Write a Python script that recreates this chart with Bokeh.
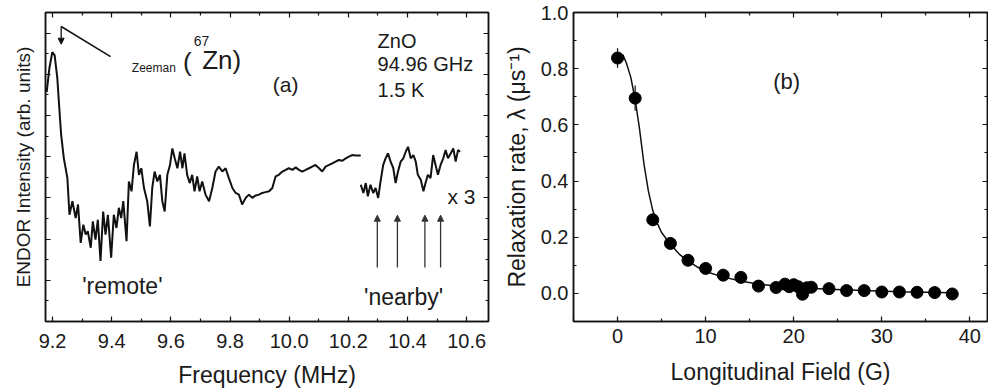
from bokeh.plotting import figure
from bokeh.layouts import row
from bokeh.models import (Range1d, LinearAxis, FixedTicker, CustomJSTickFormatter,
                          PrintfTickFormatter, Label, Arrow, NormalHead, Whisker,
                          ColumnDataSource)
from bokeh.embed import file_html
from bokeh.resources import INLINE

FONT = "Liberation Sans"
INK = "#111111"
TXT = "#1a1a1a"

# ---------------- Panel (a): ENDOR spectrum ----------------
freq_remote = [9.180, 9.189, 9.199, 9.207, 9.216, 9.225, 9.229, 9.238, 9.250, 9.257,
               9.267, 9.278, 9.286, 9.295, 9.304, 9.312, 9.319, 9.329, 9.336, 9.345,
               9.353, 9.362, 9.371, 9.379, 9.387, 9.398, 9.407, 9.416, 9.424, 9.432,
               9.439, 9.450, 9.458, 9.467, 9.475, 9.484, 9.492, 9.500, 9.509, 9.520,
               9.529, 9.537, 9.545, 9.554, 9.563, 9.571, 9.579, 9.588, 9.597, 9.605,
               9.613, 9.622, 9.631, 9.639, 9.646, 9.655, 9.664, 9.672, 9.680, 9.689,
               9.697, 9.706, 9.717, 9.729, 9.740, 9.751, 9.762, 9.774, 9.785, 9.796,
               9.808, 9.819, 9.830, 9.841, 9.853, 9.864, 9.875, 9.887, 9.898, 9.909,
               9.920, 9.932, 9.943, 9.954, 9.965, 9.977, 9.988, 9.999, 10.011, 10.022,
               10.033, 10.044, 10.056, 10.067, 10.078, 10.089, 10.101, 10.112, 10.123, 10.135,
               10.146, 10.157, 10.168, 10.180, 10.191, 10.202, 10.213, 10.225, 10.242]
endor_remote = [5.57, 6.14, 6.54, 6.46, 5.90, 4.93, 4.53, 3.96, 3.48, 2.59,
                2.92, 2.51, 2.84, 1.91, 2.35, 2.11, 2.19, 1.79, 2.43, 1.99,
                2.47, 1.47, 2.67, 2.11, 2.59, 1.55, 2.59, 2.27, 2.76, 2.51,
                2.92, 1.95, 3.40, 3.16, 3.80, 4.12, 3.56, 3.72, 3.24, 2.92,
                2.31, 3.24, 3.64, 3.40, 3.56, 2.92, 2.67, 3.56, 3.80, 4.20,
                3.96, 3.72, 4.12, 3.72, 4.08, 3.56, 3.36, 3.56, 3.16, 3.52,
                3.16, 3.40, 3.08, 2.92, 3.24, 3.64, 3.76, 3.64, 3.72, 3.48,
                3.24, 3.12, 3.08, 2.84, 3.00, 3.08, 3.00, 3.06, 3.08, 3.12,
                3.14, 3.16, 3.24, 3.52, 3.56, 3.64, 3.68, 3.72, 3.68, 3.74,
                3.68, 3.64, 3.68, 3.72, 3.76, 3.80, 3.72, 3.64, 3.76, 3.80,
                3.84, 3.88, 3.92, 3.90, 3.96, 4.00, 4.04, 4.03, 4.03]
freq_nearby = [10.242, 10.251, 10.259, 10.266, 10.275, 10.284, 10.292, 10.301, 10.309, 10.318,
               10.326, 10.334, 10.343, 10.352, 10.360, 10.368, 10.377, 10.386, 10.394, 10.402,
               10.411, 10.420, 10.428, 10.435, 10.445, 10.454, 10.461, 10.469, 10.478, 10.487,
               10.495, 10.503, 10.512, 10.521, 10.529, 10.537, 10.546, 10.555, 10.563, 10.571,
               10.578]
endor_nearby = [3.32, 3.12, 3.36, 3.04, 3.32, 3.12, 3.24, 3.00, 3.40, 3.80,
                3.96, 4.08, 3.88, 3.72, 3.36, 3.64, 3.88, 3.96, 4.12, 4.24,
                3.96, 4.04, 3.88, 3.56, 3.44, 3.16, 3.36, 3.56, 3.48, 4.04,
                3.80, 3.56, 3.80, 3.96, 4.16, 3.96, 4.08, 4.20, 3.88, 4.16,
                4.12]
nearby_marks = [10.298, 10.366, 10.459, 10.512]
zeeman_mark = 9.229

freq_major = [9.2, 9.4, 9.6, 9.8, 10.0, 10.2, 10.4, 10.6]
freq_minor = [9.3, 9.5, 9.7, 9.9, 10.1, 10.3, 10.5]
freq_labels = {9.2: "9.2", 9.4: "9.4", 9.6: "9.6", 9.8: "9.8", 10.0: "10.0",
               10.2: "10.2", 10.4: "10.4", 10.6: "10.6"}
int_major = [0, 1, 2, 3, 4, 5, 6, 7]
int_minor = [0.5, 1.5, 2.5, 3.5, 4.5, 5.5, 6.5, 7.5]

# ---------------- Panel (b): relaxation rate ----------------
field = [0, 2, 4, 6, 8, 10, 12, 14, 16, 18, 19, 19.5, 20, 20.5, 21, 21.5, 22,
         24, 26, 28, 30, 32, 34, 36, 38]
rate = [0.838, 0.695, 0.262, 0.178, 0.118, 0.089, 0.065, 0.057, 0.026, 0.021,
        0.033, 0.024, 0.031, 0.024, -0.003, 0.020, 0.022,
        0.017, 0.010, 0.010, 0.005, 0.005, 0.004, 0.003, -0.002]
rate_err = [0.035, 0.045, 0.012, 0.010, 0.010, 0.010, 0.010, 0.010, 0.010, 0.010,
            0.010, 0.010, 0.010, 0.010, 0.010, 0.010, 0.010,
            0.010, 0.010, 0.010, 0.010, 0.010, 0.010, 0.010, 0.010]
fit_field = [0.6, 1.0, 1.5, 2.0, 2.5, 3.0, 3.5, 4.0, 4.5, 5.0, 6.0, 7.0, 8.0, 9.0,
             10.0, 12.0, 14.0, 16.0, 18.0, 20.0, 24.0, 28.0, 32.0, 38.0]
fit_rate = [0.850, 0.820, 0.770, 0.690, 0.585, 0.460, 0.365, 0.295, 0.250, 0.217,
            0.175, 0.140, 0.115, 0.095, 0.078, 0.058, 0.044, 0.033, 0.026, 0.021,
            0.015, 0.010, 0.006, 0.002]

field_major = [0, 10, 20, 30, 40]
field_minor = [-5, 5, 15, 25, 35]
rate_major = [0.0, 0.2, 0.4, 0.6, 0.8, 1.0]
rate_minor = [-0.1, 0.1, 0.3, 0.5, 0.7, 0.9]


def style_axis(ax, major, minor, labels=True, size="20px"):
    ax.ticker = FixedTicker(ticks=major, minor_ticks=minor)
    ax.major_tick_in = 5
    ax.major_tick_out = 0
    ax.minor_tick_in = 3
    ax.minor_tick_out = 0
    ax.axis_line_color = INK
    ax.axis_line_width = 1.5
    ax.major_tick_line_color = INK
    ax.major_tick_line_width = 1.2
    ax.minor_tick_line_color = INK
    ax.minor_tick_line_width = 1.2
    ax.major_label_text_font = FONT
    ax.major_label_text_color = TXT
    ax.major_label_text_font_size = size
    ax.axis_label_text_font = FONT
    ax.axis_label_text_font_style = "normal"
    ax.axis_label_text_color = TXT
    if not labels:
        ax.formatter = CustomJSTickFormatter(code="return ''")
        ax.major_label_text_font_size = "0px"
        ax.major_label_standoff = 0


def base_figure(xr, yr, width, left, right, top, bottom):
    p = figure(x_range=xr, y_range=yr, width=width, height=391,
               output_backend="svg", toolbar_location=None,
               min_border_left=left, min_border_right=right,
               min_border_top=top, min_border_bottom=bottom)
    p.xgrid.visible = False
    p.ygrid.visible = False
    p.outline_line_color = INK
    p.outline_line_width = 1.5
    p.background_fill_color = "white"
    p.border_fill_color = "white"
    return p


def add_text(p, x, y, t, size, align="left", baseline="middle"):
    p.add_layout(Label(x=x, y=y, text=t, text_font=FONT, text_font_size=size,
                       text_color=TXT, text_align=align, text_baseline=baseline))


# ---- figure a ----
pa = base_figure(Range1d(9.176, 10.674), Range1d(0, 7.5), 500, 45, 12, 11, 70)
style_axis(pa.xaxis[0], freq_major, freq_minor)
pa.xaxis[0].major_label_overrides = freq_labels
pa.xaxis[0].major_label_standoff = 12
pa.xaxis[0].axis_label = "Frequency (MHz)"
pa.xaxis[0].axis_label_text_font_size = "23px"
pa.xaxis[0].axis_label_standoff = 11
style_axis(pa.yaxis[0], int_major, int_minor, labels=False)
pa.yaxis[0].axis_label = "ENDOR Intensity (arb. units)"
pa.yaxis[0].axis_label_text_font_size = "19px"
pa.yaxis[0].axis_label_standoff = 12
ta = LinearAxis(); style_axis(ta, freq_major, freq_minor, labels=False)
ra = LinearAxis(); style_axis(ra, int_major, int_minor, labels=False)
pa.add_layout(ta, "above")
pa.add_layout(ra, "right")

pa.line(freq_remote, endor_remote, line_color=INK, line_width=2)
pa.line(freq_nearby, endor_nearby, line_color=INK, line_width=2)

for xm in nearby_marks:
    pa.add_layout(Arrow(x_start=xm, y_start=1.31, x_end=xm, y_end=2.58,
                        line_color="#333333", line_width=1.3,
                        end=NormalHead(size=6, fill_color="#333333", line_color="#333333")))
pa.add_layout(Arrow(x_start=zeeman_mark, y_start=7.16, x_end=zeeman_mark, y_end=6.73,
                    line_color=INK, line_width=1.3,
                    end=NormalHead(size=6, fill_color=INK, line_color=INK)))
pa.segment(x0=[zeeman_mark], y0=[7.16], x1=[9.396], y1=[6.43], line_color=INK, line_width=1.5)

add_text(pa, 9.468, 6.16, "Zeeman", "12px")
add_text(pa, 9.641, 6.31, "(", "26px")
add_text(pa, 9.677, 6.82, "67", "14px")
add_text(pa, 9.706, 6.35, "Zn)", "26px")
add_text(pa, 9.988, 5.75, "(a)", "21px", align="center")
add_text(pa, 10.299, 6.82, "ZnO", "20px")
add_text(pa, 10.299, 6.26, "94.96 GHz", "20px")
add_text(pa, 10.299, 5.62, "1.5 K", "20px")
add_text(pa, 10.535, 3.04, "x 3", "21px")
add_text(pa, 9.300, 0.87, "'remote'", "23px")
add_text(pa, 10.253, 0.60, "'nearby'", "23px")

# ---- figure b ----
pb = base_figure(Range1d(-5, 42), Range1d(-0.1, 1.0), 488, 72, 1, 12, 69)
style_axis(pb.xaxis[0], field_major, field_minor)
pb.xaxis[0].major_label_standoff = 7
pb.xaxis[0].axis_label = "Longitudinal Field (G)"
pb.xaxis[0].axis_label_text_font_size = "23px"
pb.xaxis[0].axis_label_standoff = 13
style_axis(pb.yaxis[0], rate_major, rate_minor)
pb.yaxis[0].formatter = PrintfTickFormatter(format="%.1f")
pb.yaxis[0].major_label_standoff = 5
pb.yaxis[0].axis_label = "Relaxation rate, \u03bb (\u03bcs\u207b\u00b9)"
pb.yaxis[0].axis_label_text_font_size = "23px"
pb.yaxis[0].axis_label_standoff = 8
tb = LinearAxis(); style_axis(tb, field_major, field_minor, labels=False)
rb = LinearAxis(); style_axis(rb, rate_major, rate_minor, labels=False)
pb.add_layout(tb, "above")
pb.add_layout(rb, "right")

src = ColumnDataSource(dict(x=field, y=rate,
                            lo=[r - e for r, e in zip(rate, rate_err)],
                            hi=[r + e for r, e in zip(rate, rate_err)]))
pb.add_layout(Whisker(source=src, base="x", lower="lo", upper="hi",
                      line_color=INK, line_width=1.2, lower_head=None, upper_head=None))
pb.line(fit_field, fit_rate, line_color=INK, line_width=1.5)
pb.scatter("x", "y", source=src, size=12, marker="circle",
           fill_color="black", line_color="black")
add_text(pb, 19.2, 0.754, "(b)", "22px", align="center")

layout = row(pa, pb)
open("out.html", "w").write(file_html(layout, INLINE))
